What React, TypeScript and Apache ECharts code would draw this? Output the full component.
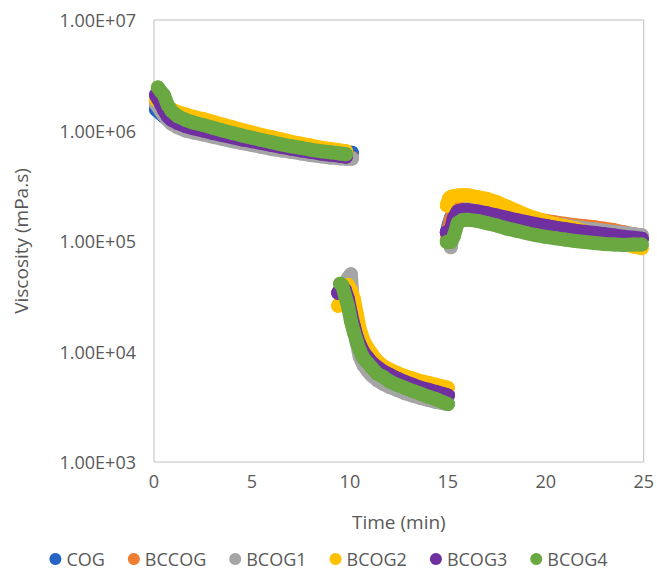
import React, { useEffect, useRef } from "react";
import * as echarts from "echarts";

// ---- Data ----
const seriesNames = ["COG", "BCCOG", "BCOG1", "BCOG2", "BCOG3", "BCOG4"];
const seriesColors = ["#2563C4", "#ED7D31", "#A5A5A5", "#FFC000", "#7030A0", "#6AA842"];

// Segment 1: 0-10 min
const t1 = [0.1, 0.2, 0.35, 0.5, 0.7, 0.9, 1.2, 1.6, 2, 2.5, 3, 3.5, 4, 4.5, 5, 5.5, 6, 6.5, 7, 7.5, 8, 8.5, 9, 9.5, 9.8, 10.1];
const cog1 = [1.55e6, 1.5e6, 1.42e6, 1.35e6, 1.27e6, 1.2e6, 1.13e6, 1.07e6, 1.02e6, 9.7e5, 9.2e5, 8.8e5, 8.4e5, 8.1e5, 7.8e5, 7.5e5, 7.25e5, 7.0e5, 6.8e5, 6.6e5, 6.45e5, 6.35e5, 6.3e5, 6.3e5, 6.3e5, 6.3e5];
const bccog1 = [1.8e6, 1.7e6, 1.55e6, 1.42e6, 1.3e6, 1.2e6, 1.12e6, 1.05e6, 1.0e6, 9.5e5, 9.0e5, 8.6e5, 8.2e5, 7.9e5, 7.6e5, 7.3e5, 7.0e5, 6.8e5, 6.55e5, 6.35e5, 6.15e5, 6.0e5, 5.85e5, 5.75e5, 5.7e5, 5.65e5];
const bcog1_1 = [1.75e6, 1.65e6, 1.5e6, 1.38e6, 1.25e6, 1.15e6, 1.07e6, 1.0e6, 9.6e5, 9.2e5, 8.8e5, 8.4e5, 8.0e5, 7.7e5, 7.4e5, 7.1e5, 6.8e5, 6.6e5, 6.4e5, 6.2e5, 6.0e5, 5.85e5, 5.7e5, 5.6e5, 5.55e5, 5.55e5];
const bcog2_1 = [1.9e6, 1.9e6, 1.85e6, 1.75e6, 1.65e6, 1.55e6, 1.47e6, 1.4e6, 1.33e6, 1.27e6, 1.2e6, 1.13e6, 1.07e6, 1.01e6, 9.6e5, 9.1e5, 8.7e5, 8.3e5, 7.9e5, 7.6e5, 7.3e5, 7.0e5, 6.8e5, 6.6e5, 6.5e5, null];
const bcog3_1 = [2.1e6, 1.95e6, 1.75e6, 1.55e6, 1.35e6, 1.25e6, 1.17e6, 1.1e6, 1.05e6, 1.0e6, 9.5e5, 9.1e5, 8.7e5, 8.3e5, 8.0e5, 7.7e5, 7.4e5, 7.1e5, 6.85e5, 6.6e5, 6.4e5, 6.2e5, 6.05e5, 5.9e5, 5.8e5, null];
const bcog4_1 = [null, 2.45e6, 2.25e6, 2.1e6, 1.7e6, 1.5e6, 1.35e6, 1.25e6, 1.18e6, 1.12e6, 1.06e6, 1.0e6, 9.5e5, 9.0e5, 8.6e5, 8.2e5, 7.85e5, 7.5e5, 7.2e5, 6.95e5, 6.7e5, 6.5e5, 6.35e5, 6.2e5, 6.1e5, null];

// Segment 2: 9.4-15 min
const t2 = [9.4, 9.5, 9.6, 9.75, 9.9, 10.05, 10.2, 10.35, 10.5, 10.7, 10.9, 11.1, 11.4, 11.7, 12, 12.4, 12.8, 13.2, 13.6, 14, 14.4, 14.8, 15.0];
const cog2 = [null, null, 3.8e4, 3.9e4, 3.7e4, 3.2e4, 2.5e4, 1.9e4, 1.45e4, 1.15e4, 9.8e3, 8.8e3, 7.8e3, 7.0e3, 6.5e3, 5.9e3, 5.5e3, 5.1e3, 4.8e3, 4.6e3, 4.4e3, 4.2e3, 4.1e3];
const bccog2 = [null, null, 3.5e4, 3.6e4, 3.5e4, 3.0e4, 2.4e4, 1.8e4, 1.4e4, 1.1e4, 9.5e3, 8.5e3, 7.5e3, 6.8e3, 6.3e3, 5.8e3, 5.4e3, 5.0e3, 4.7e3, 4.5e3, 4.3e3, 4.1e3, 4.0e3];
const bcog1_2 = [null, null, null, null, 4.6e4, 5.0e4, 2.0e4, 1.2e4, 9.0e3, 7.5e3, 6.7e3, 6.1e3, 5.5e3, 5.1e3, 4.8e3, 4.5e3, 4.2e3, 4.0e3, 3.8e3, 3.65e3, 3.5e3, 3.4e3, 3.35e3];
const bcog2_2 = [2.6e4, 2.7e4, 3.3e4, 4.0e4, 4.0e4, 3.6e4, 3.0e4, 2.2e4, 1.6e4, 1.25e4, 1.08e4, 9.6e3, 8.2e3, 7.4e3, 6.9e3, 6.4e3, 6.0e3, 5.7e3, 5.4e3, 5.2e3, 5.0e3, 4.8e3, 4.7e3];
const bcog3_2 = [3.4e4, 3.6e4, 3.8e4, 3.6e4, 3.0e4, 2.2e4, 1.7e4, 1.35e4, 1.15e4, 9.8e3, 8.8e3, 8.0e3, 7.2e3, 6.6e3, 6.2e3, 5.7e3, 5.3e3, 5.0e3, 4.7e3, 4.5e3, 4.3e3, 4.1e3, 4.0e3];
const bcog4_2 = [null, 4.1e4, 4.0e4, 3.2e4, 2.6e4, 1.9e4, 1.5e4, 1.23e4, 1.03e4, 8.7e3, 7.9e3, 7.2e3, 6.3e3, 5.9e3, 5.4e3, 5.0e3, 4.7e3, 4.4e3, 4.15e3, 3.9e3, 3.7e3, 3.45e3, 3.35e3];

// Segment 3: 15-25 min
const t3 = [14.95, 15.05, 15.15, 15.3, 15.5, 15.75, 16, 16.5, 17, 17.5, 18, 18.5, 19, 19.5, 20, 20.5, 21, 21.5, 22, 22.5, 23, 23.5, 24, 24.5, 24.9];
const cog3 = [1.2e5, 1.4e5, 1.6e5, 1.85e5, 2.0e5, 2.05e5, 2.05e5, 2.0e5, 1.92e5, 1.83e5, 1.74e5, 1.66e5, 1.58e5, 1.51e5, 1.45e5, 1.39e5, 1.34e5, 1.29e5, 1.25e5, 1.21e5, 1.17e5, 1.13e5, 1.1e5, 1.07e5, 1.05e5];
const bccog3 = [1.0e5, 1.3e5, 1.55e5, 1.8e5, 1.95e5, 2.0e5, 2.0e5, 1.97e5, 1.92e5, 1.85e5, 1.78e5, 1.71e5, 1.64e5, 1.58e5, 1.52e5, 1.47e5, 1.43e5, 1.39e5, 1.36e5, 1.33e5, 1.29e5, 1.25e5, 1.2e5, 1.15e5, 1.12e5];
const bcog1_3 = [null, null, 8.8e4, 1.3e5, 1.75e5, 1.9e5, 1.95e5, 1.95e5, 1.9e5, 1.83e5, 1.75e5, 1.68e5, 1.6e5, 1.53e5, 1.47e5, 1.42e5, 1.38e5, 1.34e5, 1.3e5, 1.27e5, 1.24e5, 1.21e5, 1.18e5, 1.15e5, 1.13e5];
const bcog2_3 = [2.1e5, 2.4e5, 2.5e5, 2.55e5, 2.58e5, 2.6e5, 2.6e5, 2.5e5, 2.4e5, 2.25e5, 2.05e5, 1.88e5, 1.72e5, 1.6e5, 1.5e5, 1.42e5, 1.36e5, 1.3e5, 1.22e5, 1.14e5, 1.07e5, 1.0e5, 9.4e4, 8.9e4, 8.6e4];
const bcog3_3 = [1.2e5, 1.2e5, 1.25e5, 1.6e5, 1.85e5, 1.9e5, 1.9e5, 1.85e5, 1.78e5, 1.7e5, 1.62e5, 1.55e5, 1.48e5, 1.42e5, 1.37e5, 1.32e5, 1.28e5, 1.24e5, 1.21e5, 1.18e5, 1.15e5, 1.12e5, 1.09e5, 1.07e5, 1.05e5];
const bcog4_3 = [9.8e4, 9.8e4, 9.8e4, 1.1e5, 1.45e5, 1.55e5, 1.56e5, 1.52e5, 1.45e5, 1.38e5, 1.3e5, 1.24e5, 1.18e5, 1.13e5, 1.09e5, 1.06e5, 1.03e5, 1.0e5, 9.8e4, 9.6e4, 9.4e4, 9.3e4, 9.2e4, 9.3e4, 9.3e4];

const seg1 = [cog1, bccog1, bcog1_1, bcog2_1, bcog3_1, bcog4_1];
const seg2 = [cog2, bccog2, bcog1_2, bcog2_2, bcog3_2, bcog4_2];
const seg3 = [cog3, bccog3, bcog1_3, bcog2_3, bcog3_3, bcog4_3];

const xTicks = { min: 0, max: 25, interval: 5 };
const yRange = { min: 1e3, max: 1e7 };

const FONT = "'Open Sans', 'Noto Sans', sans-serif";
const TEXT = "#595959";

function pairs(ts: number[], vs: (number | null)[]) {
  const out: any[] = [];
  ts.forEach((t, i) => {
    if (vs[i] != null) out.push([t, vs[i]]);
  });
  return out;
}

function sciLabel(v: number) {
  const e = Math.round(Math.log10(v));
  const m = v / Math.pow(10, e);
  const sign = e < 0 ? "-" : "+";
  return m.toFixed(2) + "E" + sign + String(Math.abs(e)).padStart(2, "0");
}

export default function App() {
  const ref = useRef<HTMLDivElement>(null);
  useEffect(() => {
    if (!ref.current) return;
    const chart = echarts.init(ref.current, undefined, { renderer: "svg" });
    const series = seriesNames.map((name, i) => {
      const data = [
        ...pairs(t1, seg1[i]),
        [10.25, "-"],
        ...pairs(t2, seg2[i]),
        [14.97, "-"],
        ...pairs(t3, seg3[i]),
      ];
      return {
        name,
        type: "line",
        data,
        z: 2 + i,
        connectNulls: false,
        symbol: "circle",
        symbolSize: 14,
        showSymbol: true,
        silent: true,
        itemStyle: { color: seriesColors[i] },
        lineStyle: { color: seriesColors[i], width: 14, cap: "round", join: "round" },
        emphasis: { disabled: true },
      };
    });
    chart.setOption({
      animation: false,
      backgroundColor: "#ffffff",
      textStyle: { fontFamily: FONT },
      grid: {
        left: 154,
        right: 11,
        top: 20,
        bottom: 119,
        show: true,
        borderColor: "#BFBFBF",
        borderWidth: 1,
        containLabel: false,
      },
      xAxis: {
        type: "value",
        min: xTicks.min,
        max: xTicks.max,
        interval: xTicks.interval,
        name: "Time (min)",
        nameLocation: "middle",
        nameGap: 50,
        nameTextStyle: { fontSize: 19, color: TEXT, fontFamily: FONT },
        axisLine: { show: false },
        axisTick: { show: false },
        splitLine: { show: false },
        axisLabel: { fontSize: 18, color: TEXT, margin: 10, fontFamily: FONT },
      },
      yAxis: {
        type: "log",
        logBase: 10,
        min: yRange.min,
        max: yRange.max,
        name: "Viscosity (mPa.s)",
        nameLocation: "middle",
        nameGap: 124,
        nameTextStyle: { fontSize: 19, color: TEXT, fontFamily: FONT },
        axisLine: { show: false },
        axisTick: { show: false },
        splitLine: { show: false },
        axisLabel: { fontSize: 18, color: TEXT, margin: 18, fontFamily: FONT, formatter: sciLabel },
      },
      legend: {
        data: seriesNames,
        bottom: 8,
        left: "center",
        icon: "circle",
        itemWidth: 12,
        itemHeight: 12,
        itemGap: 23,
        textStyle: { fontSize: 18, color: TEXT, fontFamily: FONT, padding: [0, 0, 0, 0] },
        selectedMode: false,
      },
      series,
    });
    return () => chart.dispose();
  }, []);
  return (
    <div
      ref={ref}
      style={{ position: "fixed", left: 0, top: 0, width: 657, height: 581, background: "#fff" }}
    />
  );
}
